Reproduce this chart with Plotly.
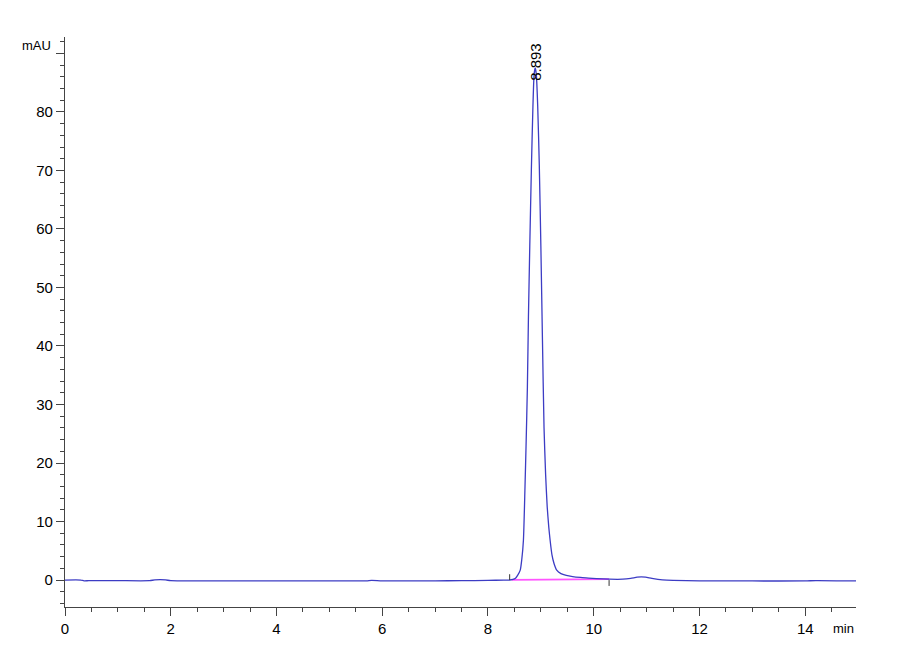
import plotly.graph_objects as go

# chromatogram (time in min, signal in mAU)
time_min = [0.0, 0.3, 0.36, 0.45, 1.0, 1.6, 1.7, 1.9, 2.0, 3.0, 4.0, 5.0, 5.7, 5.8,
            6.0, 7.0, 7.5, 8.0, 8.3, 8.40, 8.47, 8.52, 8.56, 8.61, 8.64, 8.67, 8.70,
            8.72, 8.745, 8.765, 8.79, 8.82, 8.85, 8.873, 8.893, 8.913, 8.94, 8.97,
            9.00, 9.03, 9.06, 9.09, 9.12, 9.15, 9.175, 9.21, 9.25, 9.30, 9.38, 9.48,
            9.60, 9.75, 9.90, 10.05, 10.3, 10.55, 10.7, 10.82, 10.9, 10.98, 11.1,
            11.3, 11.5, 12.0, 12.5, 13.0, 14.0, 14.2, 14.96]
signal_mau = [0.0, 0.0, -0.12, -0.1, -0.1, -0.1, 0.03, 0.03, -0.1, -0.12, -0.12, -0.12,
              -0.12, -0.05, -0.12, -0.12, -0.1, -0.05, 0.0, 0.0, 0.1, 0.3, 0.8, 1.7,
              3.6, 6.8, 16.0, 23.0, 33.0, 45.0, 57.0, 70.0, 81.0, 86.5, 87.5, 86.5,
              81.0, 71.0, 57.0, 41.0, 26.0, 18.0, 12.5, 9.0, 6.8, 4.3, 2.8, 1.7, 1.1,
              0.8, 0.6, 0.45, 0.35, 0.25, 0.15, 0.15, 0.3, 0.5, 0.55, 0.5, 0.3, 0.05,
              -0.05, -0.12, -0.12, -0.15, -0.15, -0.08, -0.15]

# integration baseline and its start/end markers
base_t = [8.45, 10.29]
base_v = [0.05, 0.15]
mark_t = [8.41, 8.41, None, 10.29, 10.29]
mark_v = [0.0, 1.0, None, 0.0, -1.0]

peak_rt = 8.893
peak_h = 87.5

fnt = "Liberation Sans, Arial, sans-serif"

fig = go.Figure()
fig.add_trace(go.Scatter(x=base_t, y=base_v, mode="lines",
                         line=dict(color="#ff55ff", width=1.8), hoverinfo="skip"))
fig.add_trace(go.Scatter(x=time_min, y=signal_mau, mode="lines",
                         line=dict(color="#3c3cc4", width=1.3, shape="spline", smoothing=0.6)))
fig.add_trace(go.Scatter(x=mark_t, y=mark_v, mode="lines",
                         line=dict(color="#333333", width=1), hoverinfo="skip"))

fig.add_annotation(x=peak_rt, y=peak_h - 2.5, text="8.893", textangle=-90,
                   showarrow=False, yanchor="bottom", xanchor="center",
                   font=dict(family=fnt, size=15, color="black"))
fig.add_annotation(xref="paper", yref="paper", x=0, y=1, xshift=-12, yshift=-8,
                   text="mAU", showarrow=False, xanchor="right", yanchor="middle",
                   font=dict(family=fnt, size=13, color="black"))
fig.add_annotation(xref="paper", yref="paper", x=1, y=0, yshift=-21,
                   text="min", showarrow=False, xanchor="right", yanchor="middle",
                   font=dict(family=fnt, size=13, color="black"))

axis_common = dict(showline=True, linecolor="#444444", linewidth=1.2, ticks="outside",
                   tickcolor="#444444", ticklen=8, showgrid=False, zeroline=False,
                   tickfont=dict(family=fnt, size=15, color="black"))

fig.update_layout(
    width=900, height=660,
    margin=dict(l=57, r=52, t=29, b=61),
    paper_bgcolor="white", plot_bgcolor="white",
    showlegend=False,
    xaxis=dict(range=[0, 14.96], tickvals=[0, 2, 4, 6, 8, 10, 12, 14],
               minor=dict(dtick=0.5, tick0=0, ticks="outside", ticklen=4,
                          tickcolor="#444444"),
               **axis_common),
    yaxis=dict(range=[-4.6, 92.8], tickvals=[0, 10, 20, 30, 40, 50, 60, 70, 80, 90],
               ticktext=["0", "10", "20", "30", "40", "50", "60", "70", "80", ""],
               minor=dict(dtick=2, tick0=0, ticks="outside", ticklen=4,
                          tickcolor="#444444"),
               **axis_common),
)

fig.write_html("out.html")
